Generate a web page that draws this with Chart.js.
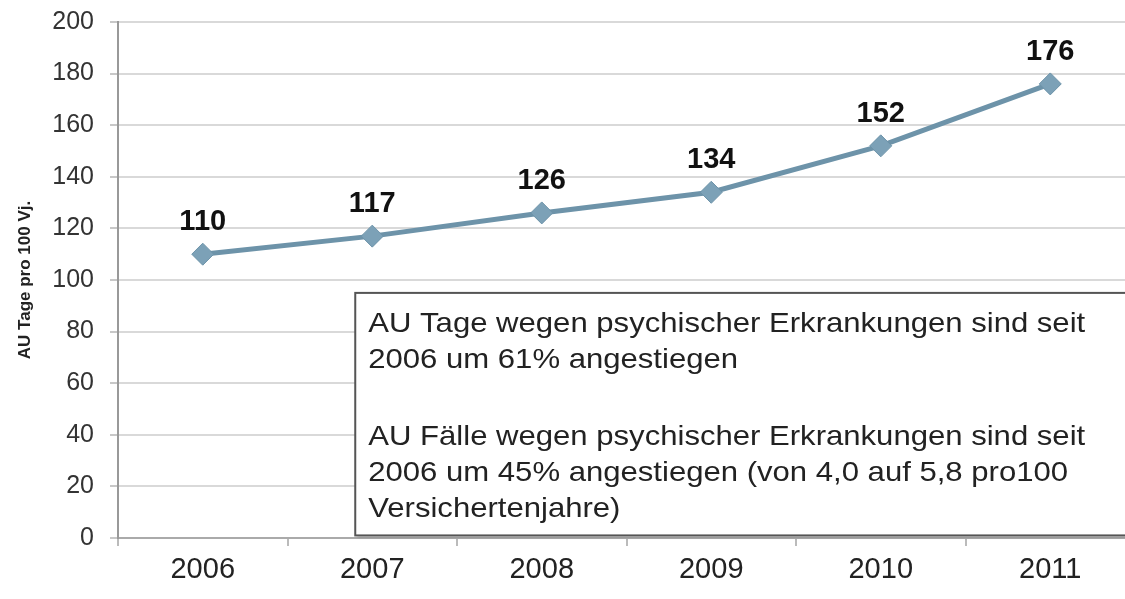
<!DOCTYPE html>
<html>
<head>
<meta charset="utf-8">
<script src="https://cdn.jsdelivr.net/npm/chart.js@4/dist/chart.umd.min.js"></script>
<style>
  html, body { margin: 0; padding: 0; background: #fff; overflow: hidden; }
  canvas { display: block; }
</style>
</head>
<body>
<canvas id="auChart" width="1135" height="599"></canvas>
<script>
const years = ["2006", "2007", "2008", "2009", "2010", "2011"];
const auTage = [110, 117, 126, 134, 152, 176]; // AU Tage pro 100 VJ
const yTicks = [0, 20, 40, 60, 80, 100, 120, 140, 160, 180, 200];
const noteLines = [
  "AU Tage wegen psychischer Erkrankungen sind seit",
  "2006 um 61% angestiegen",
  "",
  "AU Fälle wegen psychischer Erkrankungen sind seit",
  "2006 um 45% angestiegen (von 4,0 auf 5,8 pro100",
  "Versichertenjahre)",
];

const FONT = '"Liberation Sans", Arial, sans-serif';

// value labels above the diamonds
const valueLabels = {
  id: "valueLabels",
  afterDatasetsDraw(chart) {
    const ctx = chart.ctx;
    const meta = chart.getDatasetMeta(0);
    ctx.save();
    ctx.font = "bold 29px " + FONT;
    ctx.fillStyle = "#111";
    ctx.textAlign = "center";
    ctx.textBaseline = "alphabetic";
    meta.data.forEach((pt, i) => {
      ctx.fillText(String(auTage[i]), pt.x, pt.y - 24);
    });
    ctx.restore();
  },
};

// the note box in the lower right
const noteBox = {
  id: "noteBox",
  afterDatasetsDraw(chart) {
    const { ctx, scales, chartArea } = chart;
    const left = scales.x.getPixelForValue(1) - 17;
    const top = scales.y.getPixelForValue(95);
    const bottom = scales.y.getPixelForValue(1);
    const right = chartArea.right + 30;
    ctx.save();
    ctx.shadowColor = "rgba(0,0,0,0.35)";
    ctx.shadowBlur = 3;
    ctx.shadowOffsetX = 2;
    ctx.shadowOffsetY = 2;
    ctx.fillStyle = "#fff";
    ctx.fillRect(left, top, right - left, bottom - top);
    ctx.shadowColor = "transparent";
    ctx.strokeStyle = "#555";
    ctx.lineWidth = 2;
    ctx.strokeRect(left, top, right - left, bottom - top);
    ctx.font = "28px " + FONT;
    ctx.fillStyle = "#222";
    ctx.textAlign = "left";
    ctx.textBaseline = "alphabetic";
    const offs = [39, 75, 0, 152, 188, 224];
    ctx.translate(left + 13, top);
    ctx.scale(1.11, 1); // the source text runs a little wider than Arial
    noteLines.forEach((line, i) => {
      if (line) ctx.fillText(line, 0, offs[i]);
    });
    ctx.restore();
  },
};

new Chart(document.getElementById("auChart").getContext("2d"), {
  type: "line",
  data: {
    labels: years,
    datasets: [
      {
        label: "AU Tage",
        data: auTage,
        borderColor: "#6d93a9",
        borderWidth: 5,
        backgroundColor: "#7ca1b7",
        pointStyle: "rectRot",
        pointRadius: 11,
        pointBorderColor: "#6d93a9",
        pointBorderWidth: 1,
        pointBackgroundColor: "#7ca1b7",
        tension: 0,
        clip: false,
      },
    ],
  },
  options: {
    responsive: false,
    animation: false,
    devicePixelRatio: 1,
    layout: { autoPadding: false, padding: { top: 22, right: 0, left: 0, bottom: 0 } },
    plugins: {
      legend: { display: false },
      tooltip: { enabled: false },
    },
    scales: {
      x: {
        offset: true,
        afterFit: (s) => {
          s.height = 61;
          s.paddingLeft = 0;
          s.paddingRight = 0;
        },
        grid: {
          offset: true,
          drawOnChartArea: false,
          drawTicks: true,
          tickLength: 8,
          tickColor: "#bbb",
          lineWidth: 2,
        },
        border: { display: true, color: "#aaa", width: 2 },
        ticks: {
          padding: 7,
          color: "#222",
          font: { family: FONT, size: 29 },
        },
      },
      y: {
        min: 0,
        max: 200,
        afterFit: (s) => {
          s.width = 118;
          s.paddingTop = 0;
          s.paddingBottom = 0;
        },
        afterBuildTicks: (s) => { s.ticks = yTicks.map((v) => ({ value: v })); },
        grid: {
          color: "#d9d9d9",
          lineWidth: 2,
          tickLength: 8,
          tickColor: "#c8c8c8",
        },
        border: { display: true, color: "#999", width: 2 },
        ticks: {
          padding: 16,
          color: "#333",
          font: { family: FONT, size: 25 },
        },
        title: {
          display: true,
          text: "AU Tage pro 100 Vj.",
          color: "#222",
          font: { family: FONT, size: 17, weight: "bold" },
          padding: { top: 15, bottom: 0 },
        },
      },
    },
  },
  plugins: [noteBox, valueLabels],
});
</script>
</body>
</html>
